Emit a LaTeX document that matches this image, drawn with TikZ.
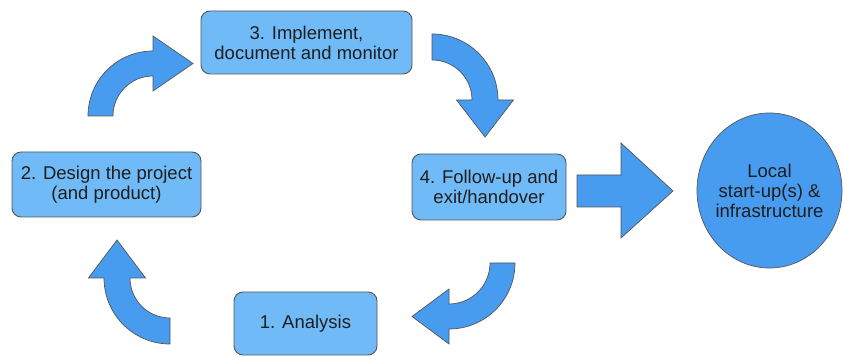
\documentclass[tikz,border=0pt]{standalone}
\usepackage{fontspec}
\setmainfont{Liberation Sans}
\definecolor{boxfill}{RGB}{112,187,247}
\definecolor{arrowfill}{RGB}{72,156,240}
\definecolor{edge}{RGB}{85,85,85}
\definecolor{txt}{RGB}{30,30,30}
\begin{document}
\begin{tikzpicture}[x=1pt,y=1pt,
  stepbox/.style={draw=edge,line width=0.9pt,fill=boxfill,rounded corners=9pt,
    inner sep=0pt,align=center,text=txt,font=\fontsize{18.5}{20}\selectfont},
  blockarrow/.style={draw=edge,line width=0.7pt,fill=arrowfill,line join=miter},
  goal/.style={draw=edge,line width=0.7pt,fill=arrowfill}]
\useasboundingbox (0,0) rectangle (843,358);
% boxes
\node[stepbox,minimum width=211pt,minimum height=63pt] (impl) at (306.5,315.5)
  {3. Implement,\\document and monitor};
\node[stepbox,minimum width=189pt,minimum height=65pt] (design) at (106.5,173.5)
  {2. Design the project\\(and product)};
\node[stepbox,minimum width=154pt,minimum height=66pt] (follow) at (489,171)
  {4. Follow-up and\\exit/handover};
\node[stepbox,minimum width=143pt,minimum height=63pt] (analysis) at (305.5,34.5)
  {1. Analysis};
\draw[goal] (769.5,167.5) ellipse [x radius=72.5,y radius=77.5];
\node[align=center,text=txt,font=\fontsize{18.5}{20}\selectfont] (local) at (769.5,167)
  {Local\\start-up(s) \&\\infrastructure};
% curved arrows
\draw[blockarrow] (113,242) -- (88,242) arc[start angle=180,end angle=90,radius=65]
  -- (153,322) -- (193,294.5) -- (153,267) -- (153,282)
  arc[start angle=90,end angle=180,radius=40] -- cycle;
\draw[blockarrow] (432,298) -- (432,324) arc[start angle=90,end angle=0,radius=66]
  -- (513.5,258) -- (485,221) -- (456.5,258) -- (472,258)
  arc[start angle=0,end angle=90,radius=40] -- cycle;
\draw[blockarrow] (490,95) -- (515,95) arc[start angle=0,end angle=-90,radius=66]
  -- (449,14) -- (412,41.5) -- (449,69) -- (449,54)
  arc[start angle=-90,end angle=0,radius=41] -- cycle;
\draw[blockarrow] (170,40) -- (170,14) arc[start angle=-90,end angle=-180,radius=66]
  -- (88.5,80) -- (117,118) -- (145.5,80) -- (130,80)
  arc[start angle=180,end angle=270,radius=40] -- cycle;
% straight arrow
\draw[blockarrow] (577,151) -- (577,183) -- (621,183) -- (621,215) -- (673,167)
  -- (621,120) -- (621,151) -- cycle;
\end{tikzpicture}
\end{document}
